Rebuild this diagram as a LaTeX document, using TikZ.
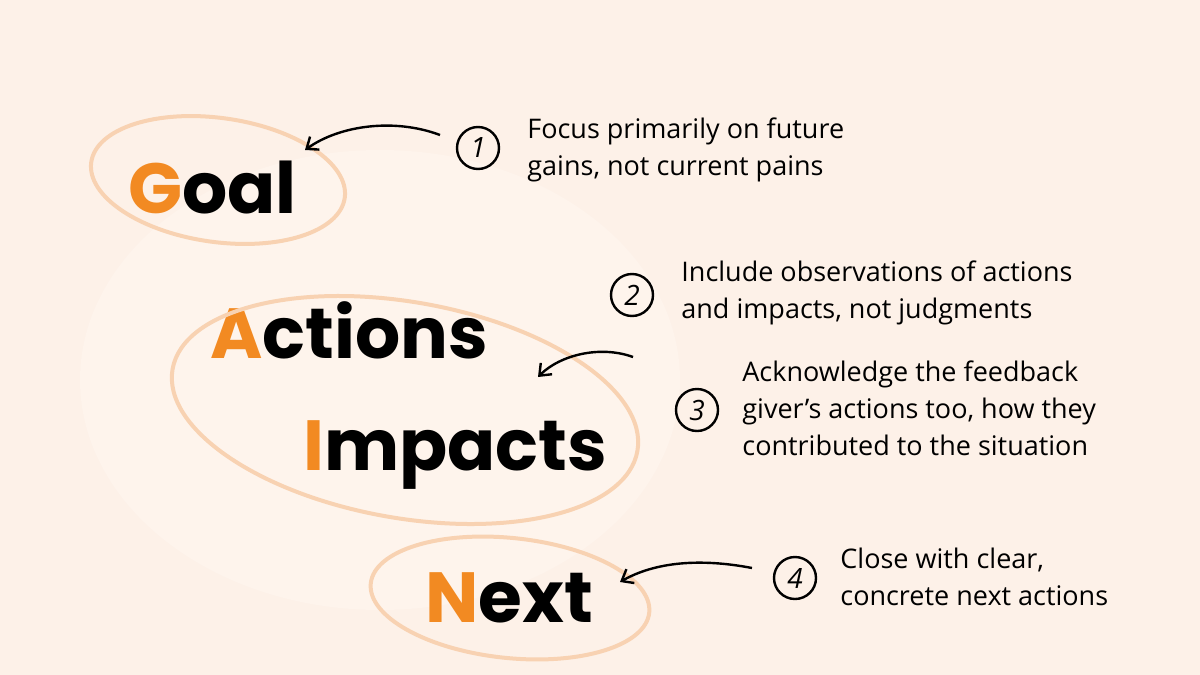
\documentclass[tikz,border=0pt]{standalone}
\usepackage{fontspec}
\setmainfont{Open Sans}
\newfontfamily\bigfont{Poppins}
\usetikzlibrary{positioning,arrows.meta}
\definecolor{bg}{HTML}{FDF1E8}
\definecolor{bgin}{HTML}{FFF7F1}
\definecolor{ring}{HTML}{F8D2B2}
\definecolor{orng}{HTML}{F28A22}
\tikzset{
    ring/.style={draw=ring, line width=2pt},
    word/.style={font=\bigfont\bfseries\fontsize{35.5}{35.5}\selectfont, anchor=base west, inner sep=0pt},
    num/.style={circle, draw=black, line width=1.2pt, minimum size=21pt, inner sep=0pt, font=\itshape\fontsize{14}{14}\selectfont},
    note/.style={font=\fontsize{13.5}{18.5}\selectfont, align=left, anchor=north west, inner sep=0pt},
    pointer/.style={line width=1.2pt, -{Straight Barb[length=5pt,width=8pt]}}
}
\begin{document}
\begin{tikzpicture}[x=0.5pt,y=-0.5pt]
    \useasboundingbox (0,0) rectangle (1200,675);
    \fill[bg] (0,0) rectangle (1200,675);
    \fill[bgin, opacity=0.5] (380,380) ellipse (300 and 230);
    % words
    \node[word] (goal) at (128,213) {{\color{orng}G}oal};
    \node[word] (actions) at (210,358) {{\color{orng}A}ctions};
    \node[word] (impacts) at (303,470) {{\color{orng}I}mpacts};
    \node[word] (next) at (425,622) {{\color{orng}N}ext};
    % rings
    \draw[ring, rotate around={-8:(218,180)}] (218,180) ellipse (128 and 62);
    \draw[ring, rotate around={-10:(405,410)}] (405,410) ellipse (236 and 108);
    \draw[ring, rotate around={-6:(510,598)}] (510,598) ellipse (140 and 60);
    % numbers and notes
    \node[num] (n1) at (478,148) {1};
    \node[note] (t1) at (527,117) {Focus primarily on future\\gains, not current pains};
    \node[num] (n2) at (632,295) {2};
    \node[note] (t2) at (681,260) {Include observations of actions\\and impacts, not judgments};
    \node[num] (n3) at (697,410) {3};
    \node[note] (t3) at (742,360) {Acknowledge the feedback\\giver’s actions too, how they\\contributed to the situation};
    \node[num] (n4) at (795,578) {4};
    \node[note] (t4) at (840,548) {Close with clear,\\concrete next actions};
    % arrows
    \coordinate (a1) at (440,135);
    \coordinate (e1) at (305,150);
    \coordinate (a3) at (633,357);
    \coordinate (e3) at (538,377);
    \coordinate (a4) at (752,568);
    \coordinate (e4) at (620,582);
    \draw[pointer] (a1) .. controls (395,118) and (340,125) .. (e1);
    \draw[pointer] (a3) .. controls (600,345) and (560,355) .. (e3);
    \draw[pointer] (a4) .. controls (700,558) and (655,562) .. (e4);
\end{tikzpicture}
\end{document}
